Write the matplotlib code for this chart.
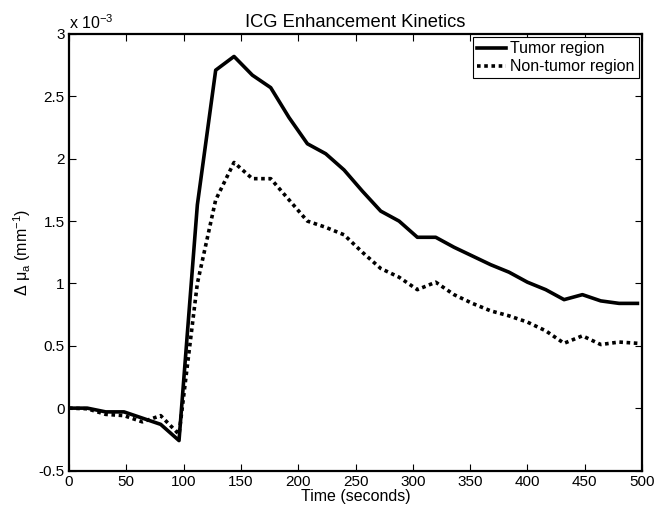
import matplotlib
matplotlib.use("Agg")
import matplotlib.pyplot as plt
from matplotlib.ticker import FuncFormatter, MultipleLocator

plt.rcParams['font.family'] = ['Liberation Sans', 'DejaVu Sans']
plt.rcParams['mathtext.fontset'] = 'custom'
plt.rcParams['mathtext.rm'] = 'Liberation Sans'
plt.rcParams['mathtext.it'] = 'Liberation Sans:italic'

time_s = [0, 16, 32, 48, 64, 80, 96, 112, 128, 144, 160, 176, 192, 208, 224, 240,
          256, 272, 288, 304, 320, 336, 352, 368, 384, 400, 416, 432, 448, 464, 480, 496]
tumor = [0.00, 0.00, -0.03, -0.03, -0.08, -0.13, -0.26, 1.63, 2.71, 2.82, 2.67, 2.57,
         2.33, 2.12, 2.04, 1.91, 1.74, 1.58, 1.50, 1.37, 1.37, 1.29, 1.22, 1.15,
         1.09, 1.01, 0.95, 0.87, 0.91, 0.86, 0.84, 0.84]
non_tumor = [0.00, -0.005, -0.05, -0.06, -0.11, -0.06, -0.21, 1.00, 1.67, 1.97, 1.84, 1.84,
             1.67, 1.50, 1.45, 1.39, 1.25, 1.12, 1.05, 0.95, 1.01, 0.91, 0.84, 0.78,
             0.74, 0.69, 0.62, 0.52, 0.58, 0.51, 0.53, 0.52]
scale = 1e-3

fig = plt.figure(figsize=(6.64, 5.11), dpi=100)
ax = fig.add_axes([69/664, 1-470.5/511, (642-69)/664, (470.5-34)/511])

ax.plot(time_s, [v*scale for v in tumor], color='black', lw=2.6, label='Tumor region')
ax.plot(time_s, [v*scale for v in non_tumor], color='black', lw=2.6,
        linestyle=(0, (1, 1)), label='Non-tumor region')

ax.set_xlim(0, 500)
ax.set_ylim(-0.5e-3, 3e-3)
ax.xaxis.set_major_locator(MultipleLocator(50))
ax.yaxis.set_major_locator(MultipleLocator(0.5e-3))
ax.yaxis.set_major_formatter(FuncFormatter(lambda v, p: f"{v/scale:g}"))
ax.tick_params(direction='in', length=5, width=0.8, top=True, right=True,
               labelsize=11, pad=3, colors='black')
for s in ax.spines.values():
    s.set_linewidth(1.6)

ax.text(0, 1.005, r'x 10$^{-3}$', transform=ax.transAxes, fontsize=11.5,
        ha='left', va='bottom')
ax.set_title('ICG Enhancement Kinetics', fontsize=13.2, pad=5)
ax.set_xlabel('Time (seconds)', fontsize=11.5, labelpad=0)
ax.set_ylabel('Δ μ$_{\\rm a}$ (mm$^{-1}$)', fontsize=11.5, labelpad=4)

leg = ax.legend(loc='upper right', fontsize=11.5, frameon=True, fancybox=False,
                edgecolor='black', framealpha=1, handlelength=1.8, handletextpad=0.3,
                borderpad=0.25, labelspacing=0.2, borderaxespad=0.2)
leg.get_frame().set_linewidth(0.8)

fig.savefig('out.png', dpi=100)
